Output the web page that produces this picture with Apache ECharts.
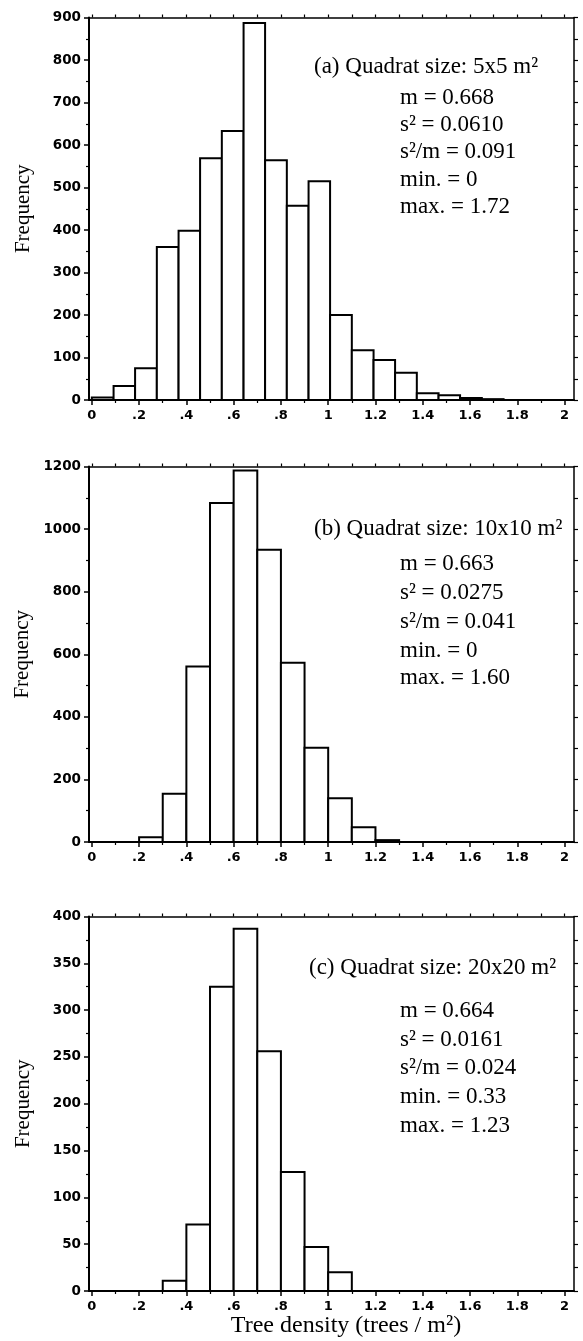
<!DOCTYPE html>
<html><head><meta charset="utf-8">
<script src="https://cdn.jsdelivr.net/npm/echarts@6/dist/echarts.min.js"></script>
<style>html,body{margin:0;padding:0;background:#fff}#c{width:583px;height:1341px}</style>
</head><body><div id="c"></div>
<script>
// ---- data ----
const edgesA = [0, 0.092, 0.183, 0.275, 0.367, 0.458, 0.550, 0.642, 0.733, 0.825, 0.917, 1.008, 1.100, 1.192, 1.283, 1.375, 1.467, 1.558, 1.650, 1.742];
const freqA  = [6, 33, 75, 360, 398, 569, 633, 887, 564, 457, 515, 200, 117, 94, 64, 16, 11, 5, 2];
const edgesB = [0.2, 0.3, 0.4, 0.5, 0.6, 0.7, 0.8, 0.9, 1.0, 1.1, 1.2, 1.3];
const freqB  = [15, 154, 561, 1083, 1187, 934, 573, 301, 140, 47, 6];
const edgesC = [0.3, 0.4, 0.5, 0.6, 0.7, 0.8, 0.9, 1.0, 1.1];
const freqC  = [11, 71, 325, 387, 256, 127, 47, 20];

const xTickValues = [0, 0.2, 0.4, 0.6, 0.8, 1.0, 1.2, 1.4, 1.6, 1.8, 2.0];
const xTickLabels = ['0', '.2', '.4', '.6', '.8', '1', '1.2', '1.4', '1.6', '1.8', '2'];
const xMinorValues = [0.1, 0.3, 0.5, 0.7, 0.9, 1.1, 1.3, 1.5, 1.7, 1.9];
const yMaxes = [900, 1200, 400];
const ySteps = [100, 200, 50];

const titles = ['(a) Quadrat size: 5x5 m²', '(b) Quadrat size: 10x10 m²', '(c) Quadrat size: 20x20 m²'];
const statsA = ['m = 0.668', 's² = 0.0610', 's²/m = 0.091', 'min. = 0', 'max. = 1.72'];
const statsB = ['m = 0.663', 's² = 0.0275', 's²/m = 0.041', 'min. = 0', 'max. = 1.60'];
const statsC = ['m = 0.664', 's² = 0.0161', 's²/m = 0.024', 'min. = 0.33', 'max. = 1.23'];
const yName = 'Frequency';
const xName = 'Tree density (trees / m²)';

// ---- layout ----
const grids = [
  {left: 89, right: 9, top: 17.5, height: 382.5},
  {left: 89, right: 9, top: 466.5, height: 375.5},
  {left: 89, right: 9, top: 916.5, height: 374.5}
];
const titlePos = [[314, 67], [314, 529], [309, 968]];
const statsX = 400;
const statsY = [[98, 125, 152, 180, 207], [564, 593, 622, 651, 678], [1011, 1040, 1068, 1097, 1126]];

const yTickFont = {fontFamily: 'DejaVu Sans', fontWeight: 'bold', fontSize: 13.5, color: '#000'};
const xTickFont = {fontFamily: 'DejaVu Sans', fontWeight: 'bold', fontSize: 13, color: '#000'};
const serif = '"Liberation Serif", "DejaVu Serif", serif';
const X_MIN = -0.012, X_MAX = 2.04;

const xAxes = [], yAxes = [], series = [];
const datasets = [[edgesA, freqA], [edgesB, freqB], [edgesC, freqC]];

grids.forEach((g, i) => {
  xAxes.push({
    gridIndex: i, type: 'value', position: 'bottom', min: X_MIN, max: X_MAX,
    axisLine: {show: true, onZero: false, lineStyle: {color: '#000', width: 2}},
    axisTick: {show: true, inside: false, length: 5, customValues: xTickValues, lineStyle: {color: '#000', width: 1.5}},
    axisLabel: Object.assign({show: true, margin: 9, customValues: xTickValues,
      formatter: v => { const k = xTickValues.findIndex(t => Math.abs(t - v) < 1e-6); return k >= 0 ? xTickLabels[k] : ''; }}, xTickFont),
    splitLine: {show: false}
  });
  xAxes.push({
    gridIndex: i, type: 'value', position: 'bottom', min: X_MIN, max: X_MAX,
    axisLine: {show: false, onZero: false},
    axisTick: {show: true, inside: false, length: 3, customValues: xMinorValues, lineStyle: {color: '#000', width: 1.2}},
    axisLabel: {show: false}, splitLine: {show: false}
  });
  xAxes.push({
    gridIndex: i, type: 'value', position: 'top', min: X_MIN, max: X_MAX,
    axisLine: {show: true, onZero: false, lineStyle: {color: '#000', width: 1.5}},
    axisTick: {show: true, inside: false, length: 3, customValues: xTickValues.concat(xMinorValues), lineStyle: {color: '#000', width: 1.2}},
    axisLabel: {show: false}, splitLine: {show: false}
  });
  yAxes.push({
    gridIndex: i, type: 'value', position: 'left', min: 0, max: yMaxes[i], interval: ySteps[i],
    name: yName, nameLocation: 'middle', nameGap: 55,
    nameTextStyle: {fontFamily: serif, fontSize: 21, color: '#000'},
    axisLine: {show: true, onZero: false, lineStyle: {color: '#000', width: 2}},
    axisTick: {show: true, inside: false, length: 5, lineStyle: {color: '#000', width: 1.5}},
    minorTick: {show: true, splitNumber: 2, length: 3, lineStyle: {color: '#000', width: 1.2}},
    axisLabel: Object.assign({show: true, margin: 8, formatter: v => String(v)}, yTickFont),
    splitLine: {show: false}
  });
  yAxes.push({
    gridIndex: i, type: 'value', position: 'right', min: 0, max: yMaxes[i], interval: ySteps[i],
    axisLine: {show: true, onZero: false, lineStyle: {color: '#000', width: 1.5}},
    axisTick: {show: true, inside: false, length: 4, lineStyle: {color: '#000', width: 1.2}},
    minorTick: {show: true, splitNumber: 2, length: 4, lineStyle: {color: '#000', width: 1.2}},
    axisLabel: {show: false}, splitLine: {show: false}
  });
  const [edges, freq] = datasets[i];
  series.push({
    type: 'custom', xAxisIndex: i * 3, yAxisIndex: i * 2,
    data: freq.map((f, k) => [edges[k], edges[k + 1], f]),
    encode: {x: [0, 1], y: 2},
    clip: false,
    renderItem: (params, api) => {
      const p0 = api.coord([api.value(0), api.value(2)]);
      const p1 = api.coord([api.value(1), 0]);
      return {type: 'rect', shape: {x: p0[0], y: p0[1], width: p1[0] - p0[0], height: p1[1] - p0[1]},
        style: {fill: '#fff', stroke: '#000', lineWidth: 2}};
    }
  });
});

const graphics = [];
const allStats = [statsA, statsB, statsC];
const textFont = '23px ' + serif;
titles.forEach((t, i) => {
  graphics.push({type: 'text', x: titlePos[i][0], y: titlePos[i][1],
    style: {text: t, font: textFont, fill: '#000', verticalAlign: 'middle'}});
  allStats[i].forEach((s, k) => {
    graphics.push({type: 'text', x: statsX, y: statsY[i][k],
      style: {text: s, font: textFont, fill: '#000', verticalAlign: 'middle'}});
  });
});
graphics.push({type: 'text', x: 346, y: 1326,
  style: {text: xName, font: '24px ' + serif, fill: '#000', align: 'center', verticalAlign: 'middle'}});

const chart = echarts.init(document.getElementById('c'), null, {renderer: 'canvas'});
chart.setOption({
  animation: false,
  backgroundColor: '#fff',
  grid: grids.map(g => Object.assign({containLabel: false}, g)),
  xAxis: xAxes, yAxis: yAxes, series: series, graphic: graphics
});
</script></body></html>
